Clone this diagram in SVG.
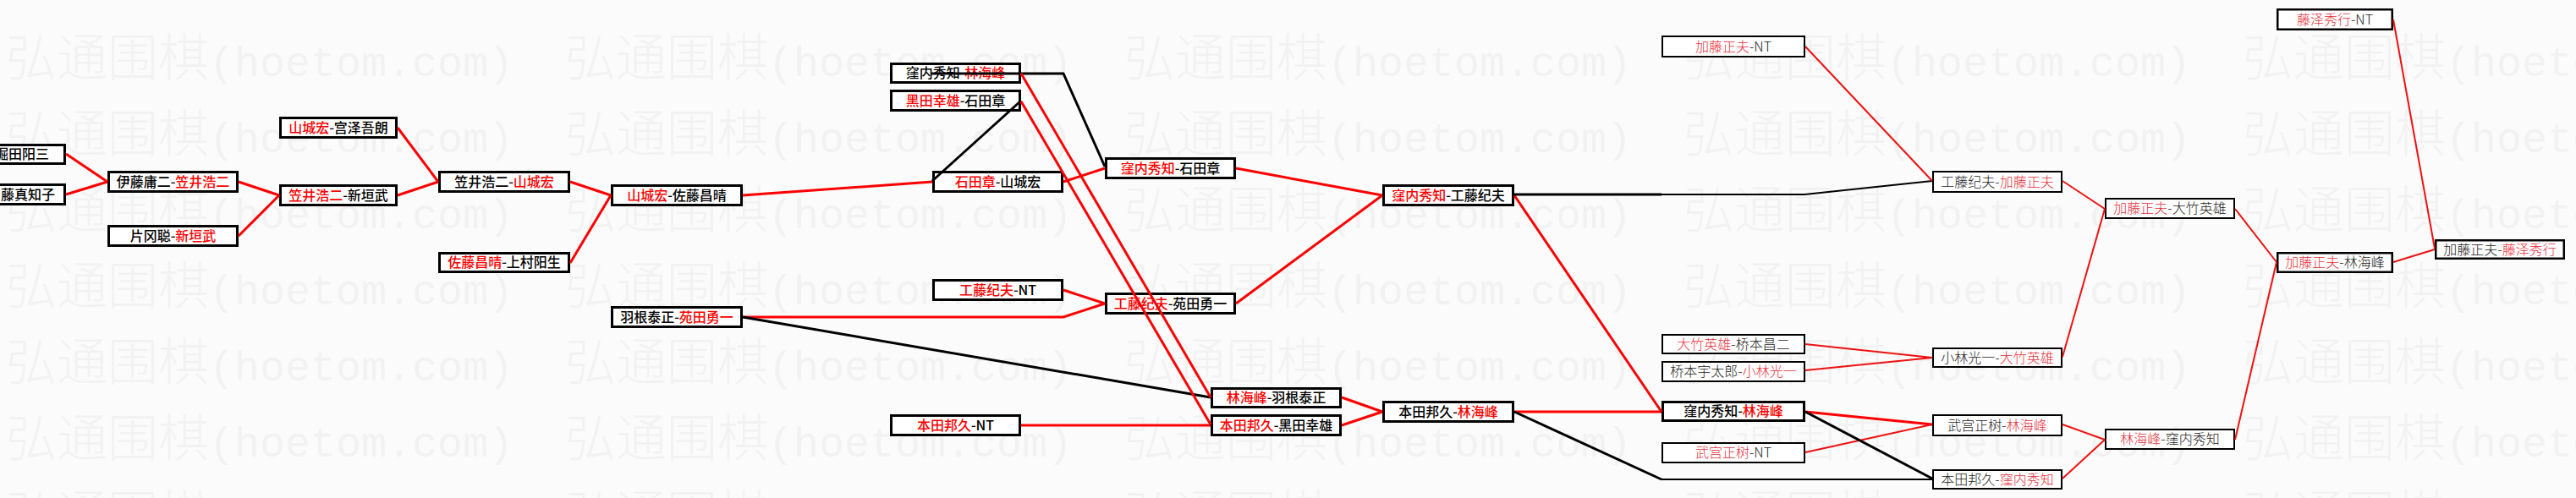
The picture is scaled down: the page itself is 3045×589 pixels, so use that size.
<svg xmlns="http://www.w3.org/2000/svg" xmlns:xlink="http://www.w3.org/1999/xlink" width="3045" height="589" viewBox="0 0 3045 589">
<style>
.wm{font-family:"Noto Sans CJK SC",sans-serif;font-size:60px;font-weight:300;fill:#f2f2f2}
.wml{font-family:"Liberation Mono",monospace;font-size:50px}
.nd rect{fill:#fff;stroke:#000;stroke-width:3}
.nd text{font-family:"Noto Sans CJK SC","Noto Sans CJK JP",sans-serif;font-size:16px;font-weight:500;text-anchor:middle;fill:#000}
.nd .r{fill:#ff0000}
.nd.th rect{stroke-width:2}
.nd.md rect{stroke-width:2.5}
.nd.th text,.nd.md text{font-weight:300;fill:#222}
.nd.th .r,.nd.md .r{fill:#e8303a}
.cr{fill:none;stroke:#ff0000;stroke-width:3}
.ck{fill:none;stroke:#000;stroke-width:3}
.cr2{fill:none;stroke:#ee1111;stroke-width:2}
.ck2{fill:none;stroke:#000;stroke-width:2}
</style>
<defs>
<g id="wmrow">
<text class="wm" x="7" y="0">弘通围棋<tspan class="wml">(hoetom.com)</tspan></text>
<text class="wm" x="668" y="0">弘通围棋<tspan class="wml">(hoetom.com)</tspan></text>
<text class="wm" x="1329" y="0">弘通围棋<tspan class="wml">(hoetom.com)</tspan></text>
<text class="wm" x="1990" y="0">弘通围棋<tspan class="wml">(hoetom.com)</tspan></text>
<text class="wm" x="2651" y="0">弘通围棋<tspan class="wml">(hoetom.com)</tspan></text>
</g>
</defs>
<rect x="0" y="0" width="3045" height="589" fill="#fbfbfb"/>
<g id="watermark">
<use xlink:href="#wmrow" y="90"/>
<use xlink:href="#wmrow" y="180"/>
<use xlink:href="#wmrow" y="270"/>
<use xlink:href="#wmrow" y="360"/>
<use xlink:href="#wmrow" y="450"/>
<use xlink:href="#wmrow" y="540"/>
<use xlink:href="#wmrow" y="630"/>
</g>
<g id="nodes">
<g id="n1" class="nd"><rect x="-78.5" y="171.5" width="155" height="22"/><text x="58" y="188" style="text-anchor:end">堀田阳三</text></g>
<g id="n2" class="nd"><rect x="-78.5" y="218.5" width="155" height="23"/><text x="65" y="235.5" style="text-anchor:end">藤真知子</text></g>
<g id="n3" class="nd"><rect x="128.5" y="203.5" width="152" height="23"/><text x="204.5" y="220.5">伊藤庸二-<tspan class="r">笠井浩二</tspan></text></g>
<g id="n4" class="nd"><rect x="128.5" y="267.5" width="152" height="23"/><text x="204.5" y="284.5">片冈聪-<tspan class="r">新垣武</tspan></text></g>
<g id="n5" class="nd"><rect x="331.5" y="139.5" width="137" height="23"/><text x="400" y="156.5"><tspan class="r">山城宏</tspan>-宫泽吾朗</text></g>
<g id="n6" class="nd"><rect x="331.5" y="219.5" width="137" height="23"/><text x="400" y="236.5"><tspan class="r">笠井浩二</tspan>-新垣武</text></g>
<g id="n7" class="nd"><rect x="519.5" y="203.5" width="153" height="23"/><text x="596" y="220.5">笠井浩二-<tspan class="r">山城宏</tspan></text></g>
<g id="n8" class="nd"><rect x="519.5" y="299.5" width="153" height="22"/><text x="596" y="316"><tspan class="r">佐藤昌晴</tspan>-上村阳生</text></g>
<g id="n9" class="nd"><rect x="723.5" y="219.5" width="153" height="23"/><text x="800" y="236.5"><tspan class="r">山城宏</tspan>-佐藤昌晴</text></g>
<g id="n10" class="nd"><rect x="723.5" y="363.5" width="153" height="23"/><text x="800" y="380.5">羽根泰正-<tspan class="r">苑田勇一</tspan></text></g>
<g id="n11" class="nd"><rect x="1053.5" y="75.5" width="152" height="22"/><text x="1129.5" y="92">窪内秀知-<tspan class="r">林海峰</tspan></text></g>
<g id="n12" class="nd"><rect x="1053.5" y="107.5" width="152" height="23"/><text x="1129.5" y="124.5"><tspan class="r">黑田幸雄</tspan>-石田章</text></g>
<g id="n13" class="nd"><rect x="1053.5" y="491.5" width="152" height="23"/><text x="1129.5" y="508.5"><tspan class="r">本田邦久</tspan>-NT</text></g>
<g id="n14" class="nd"><rect x="1103.5" y="203.5" width="152" height="23"/><text x="1179.5" y="220.5"><tspan class="r">石田章</tspan>-山城宏</text></g>
<g id="n15" class="nd"><rect x="1103.5" y="331.5" width="152" height="23"/><text x="1179.5" y="348.5"><tspan class="r">工藤纪夫</tspan>-NT</text></g>
<g id="n16" class="nd"><rect x="1307.5" y="187.5" width="152" height="23"/><text x="1383.5" y="204.5"><tspan class="r">窪内秀知</tspan>-石田章</text></g>
<g id="n17" class="nd"><rect x="1307.5" y="347.5" width="152" height="23"/><text x="1383.5" y="364.5"><tspan class="r">工藤纪夫</tspan>-苑田勇一</text></g>
<g id="n18" class="nd"><rect x="1432.5" y="459.5" width="152" height="22"/><text x="1508.5" y="476"><tspan class="r">林海峰</tspan>-羽根泰正</text></g>
<g id="n19" class="nd"><rect x="1432.5" y="491.5" width="152" height="23"/><text x="1508.5" y="508.5"><tspan class="r">本田邦久</tspan>-黑田幸雄</text></g>
<g id="n20" class="nd"><rect x="1635.5" y="219.5" width="153" height="23"/><text x="1712" y="236.5"><tspan class="r">窪内秀知</tspan>-工藤纪夫</text></g>
<g id="n21" class="nd"><rect x="1635.5" y="475.5" width="153" height="23"/><text x="1712" y="492.5">本田邦久-<tspan class="r">林海峰</tspan></text></g>
<g id="n22" class="nd th"><rect x="1965" y="43" width="168" height="24"/><text x="2049" y="60.5"><tspan class="r">加藤正夫</tspan>-NT</text></g>
<g id="n23" class="nd th"><rect x="1965" y="396" width="168" height="22"/><text x="2049" y="412.5"><tspan class="r">大竹英雄</tspan>-桥本昌二</text></g>
<g id="n24" class="nd th"><rect x="1965" y="428" width="168" height="23"/><text x="2049" y="445">桥本宇太郎-<tspan class="r">小林光一</tspan></text></g>
<g id="n25" class="nd"><rect x="1965.5" y="475.5" width="167" height="22"/><text x="2049" y="492">窪内秀知-<tspan class="r">林海峰</tspan></text></g>
<g id="n26" class="nd th"><rect x="1965" y="524" width="168" height="23"/><text x="2049" y="541"><tspan class="r">武宫正树</tspan>-NT</text></g>
<g id="n27" class="nd th"><rect x="2285" y="203" width="152" height="24"/><text x="2361" y="220.5">工藤纪夫-<tspan class="r">加藤正夫</tspan></text></g>
<g id="n28" class="nd th"><rect x="2285" y="412" width="152" height="22"/><text x="2361" y="428.5">小林光一-<tspan class="r">大竹英雄</tspan></text></g>
<g id="n29" class="nd th"><rect x="2285" y="491" width="152" height="24"/><text x="2361" y="508.5">武宫正树-<tspan class="r">林海峰</tspan></text></g>
<g id="n30" class="nd th"><rect x="2285" y="556" width="152" height="22"/><text x="2361" y="572.5">本田邦久-<tspan class="r">窪内秀知</tspan></text></g>
<g id="n31" class="nd th"><rect x="2489" y="235" width="152" height="23"/><text x="2565" y="252"><tspan class="r">加藤正夫</tspan>-大竹英雄</text></g>
<g id="n32" class="nd th"><rect x="2489" y="508" width="152" height="23"/><text x="2565" y="525"><tspan class="r">林海峰</tspan>-窪内秀知</text></g>
<g id="n33" class="nd md"><rect x="2692.25" y="11.25" width="135.5" height="23.5"/><text x="2760" y="28.5"><tspan class="r">藤泽秀行</tspan>-NT</text></g>
<g id="n34" class="nd md"><rect x="2692.25" y="299.25" width="135.5" height="22.5"/><text x="2760" y="316"><tspan class="r">加藤正夫</tspan>-林海峰</text></g>
<g id="n35" class="nd md"><rect x="2879.25" y="284.25" width="151.5" height="21.5"/><text x="2955" y="300.5">加藤正夫-<tspan class="r">藤泽秀行</tspan></text></g>
</g>
<g id="connectors">
<path class="cr" d="M78 182 L127 215"/>
<path class="cr" d="M78 230 L127 215"/>
<path class="cr" d="M282 215 L330 231"/>
<path class="cr" d="M282 279 L330 231"/>
<path class="cr" d="M470 151 L518 215"/>
<path class="cr" d="M470 231 L518 215"/>
<path class="cr" d="M674 215 L722 231"/>
<path class="cr" d="M674 311 L722 231"/>
<path class="cr" d="M878 231 L1102 215"/>
<path class="cr" d="M878 375 L1257 375 L1306 359"/>
<path class="ck" d="M878 375 L1431 470"/>
<path class="ck" d="M1102 214 L1207 119"/>
<path class="ck" d="M1100 87 L1257 87 L1306 197"/>
<path class="cr" d="M1207 87 L1431 470"/>
<path class="cr" d="M1207 120 L1431 502"/>
<path class="cr" d="M1257 215 L1306 199"/>
<path class="cr" d="M1461 199 L1634 231"/>
<path class="cr" d="M1257 343 L1306 359"/>
<path class="cr" d="M1461 359 L1634 231"/>
<path class="cr" d="M1207 503 L1431 503"/>
<path class="cr" d="M1586 470 L1634 487"/>
<path class="cr" d="M1586 503 L1634 487"/>
<path class="cr" d="M1790 487 L1964 487"/>
<path class="ck" d="M1790 487 L1964 567"/>
<path class="ck2" d="M1964 567 L2284 567"/>
<path class="cr" d="M1790 231 L1964 487"/>
<path class="ck" d="M1790 230 L1964 230"/>
<path class="ck2" d="M1964 230 L2133 230 L2284 214"/>
<path class="cr2" d="M2134 55 L2284 214"/>
<path class="cr2" d="M2438 214 L2488 247"/>
<path class="cr2" d="M2438 422 L2488 247"/>
<path class="cr2" d="M2134 407 L2284 423"/>
<path class="cr2" d="M2134 438 L2284 423"/>
<path class="cr" d="M2134 487 L2284 502"/>
<path class="cr2" d="M2134 535 L2284 502"/>
<path class="ck" d="M2134 487 L2284 566"/>
<path class="cr2" d="M2438 502 L2488 520"/>
<path class="cr2" d="M2438 566 L2488 520"/>
<path class="cr2" d="M2642 247 L2691 310"/>
<path class="cr2" d="M2642 520 L2691 310"/>
<path class="cr2" d="M2829 310 L2878 295"/>
<path class="cr2" d="M2829 23 L2878 294"/>
</g>
</svg>
